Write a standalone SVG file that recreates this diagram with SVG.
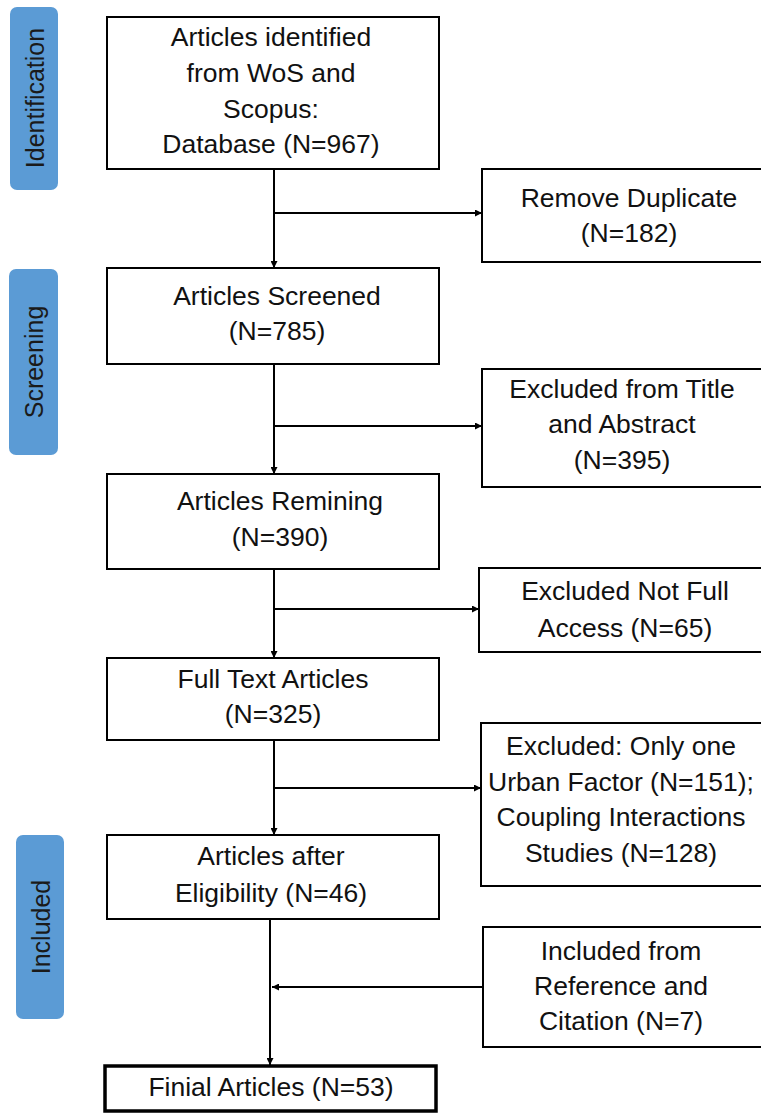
<svg xmlns="http://www.w3.org/2000/svg" width="761" height="1113" viewBox="0 0 761 1113">
<style>
.box{fill:#fff;stroke:#000;stroke-width:2}
.thick{stroke-width:3.5}
.t{font-family:"Liberation Sans",Arial,sans-serif;font-size:26.5px;fill:#111;text-anchor:middle}
.lab{fill:#5b9bd5}
.lt{font-family:"Liberation Sans",Arial,sans-serif;font-size:25px;fill:#1a1a1a;text-anchor:middle;dominant-baseline:central}
.c{stroke:#000;stroke-width:2;fill:none}
</style>
<defs>
<marker id="ah" viewBox="0 0 10 10" refX="10" refY="5" markerWidth="8" markerHeight="7" markerUnits="userSpaceOnUse" orient="auto">
<path d="M0,0 L10,5 L0,10 Z" fill="#000"/>
</marker>
</defs>
<rect width="761" height="1113" fill="#fff"/>
<g id="phase-identification">
<rect class="lab" x="10" y="7" width="48" height="183" rx="7"/>
<text class="lt" transform="translate(35,98) rotate(-90)">Identification</text>
</g>
<g id="phase-screening">
<rect class="lab" x="9" y="269" width="49" height="186" rx="7"/>
<text class="lt" transform="translate(34,362) rotate(-90)">Screening</text>
</g>
<g id="phase-included">
<rect class="lab" x="16" y="835" width="48" height="184" rx="7"/>
<text class="lt" transform="translate(41,927) rotate(-90)">Included</text>
</g>
<g id="connectors">
<line class="c" x1="274" y1="169" x2="274" y2="268" marker-end="url(#ah)"/>
<line class="c" x1="274" y1="213" x2="482" y2="213" marker-end="url(#ah)"/>
<line class="c" x1="274" y1="364" x2="274" y2="474" marker-end="url(#ah)"/>
<line class="c" x1="274" y1="426" x2="482" y2="426" marker-end="url(#ah)"/>
<line class="c" x1="274" y1="569" x2="274" y2="658" marker-end="url(#ah)"/>
<line class="c" x1="274" y1="609" x2="479" y2="609" marker-end="url(#ah)"/>
<line class="c" x1="274" y1="740" x2="274" y2="835" marker-end="url(#ah)"/>
<line class="c" x1="274" y1="788" x2="481" y2="788" marker-end="url(#ah)"/>
<line class="c" x1="270" y1="919" x2="270" y2="1065" marker-end="url(#ah)"/>
<line class="c" x1="483" y1="987" x2="272" y2="987" marker-end="url(#ah)"/>
</g>
<g id="n1">
<rect class="box" x="107" y="17" width="332" height="152"/>
<text class="t" x="271" y="46">Articles identified</text>
<text class="t" x="271" y="82">from WoS and</text>
<text class="t" x="271" y="118">Scopus:</text>
<text class="t" x="271" y="153">Database (N=967)</text>
</g>
<g id="n2">
<rect class="box" x="482" y="169" width="300" height="93"/>
<text class="t" x="629" y="207">Remove Duplicate</text>
<text class="t" x="629" y="242">(N=182)</text>
</g>
<g id="n3">
<rect class="box" x="107" y="268" width="332" height="96"/>
<text class="t" x="277" y="305">Articles Screened</text>
<text class="t" x="277" y="340">(N=785)</text>
</g>
<g id="n4">
<rect class="box" x="482" y="369" width="300" height="118"/>
<text class="t" x="622" y="398">Excluded from Title</text>
<text class="t" x="622" y="433">and Abstract</text>
<text class="t" x="622" y="469">(N=395)</text>
</g>
<g id="n5">
<rect class="box" x="107" y="474" width="332" height="95"/>
<text class="t" x="280" y="510">Articles Remining</text>
<text class="t" x="280" y="546">(N=390)</text>
</g>
<g id="n6">
<rect class="box" x="479" y="568" width="300" height="84"/>
<text class="t" x="625" y="600">Excluded Not Full</text>
<text class="t" x="625" y="637">Access (N=65)</text>
</g>
<g id="n7">
<rect class="box" x="107" y="658" width="332" height="82"/>
<text class="t" x="273" y="688">Full Text Articles</text>
<text class="t" x="273" y="723">(N=325)</text>
</g>
<g id="n8">
<rect class="box" x="481" y="723" width="300" height="163"/>
<text class="t" x="621" y="755">Excluded: Only one</text>
<text class="t" x="621" y="791">Urban Factor (N=151);</text>
<text class="t" x="621" y="826">Coupling Interactions</text>
<text class="t" x="621" y="862">Studies (N=128)</text>
</g>
<g id="n9">
<rect class="box" x="107" y="835" width="332" height="84"/>
<text class="t" x="271" y="865">Articles after</text>
<text class="t" x="271" y="902">Eligibility (N=46)</text>
</g>
<g id="n10">
<rect class="box" x="483" y="927" width="300" height="120"/>
<text class="t" x="621" y="960">Included from</text>
<text class="t" x="621" y="995">Reference and</text>
<text class="t" x="621" y="1030">Citation (N=7)</text>
</g>
<g id="n11">
<rect class="box thick" x="105" y="1066" width="331" height="45"/>
<text class="t" x="271" y="1096">Finial Articles (N=53)</text>
</g>
</svg>
